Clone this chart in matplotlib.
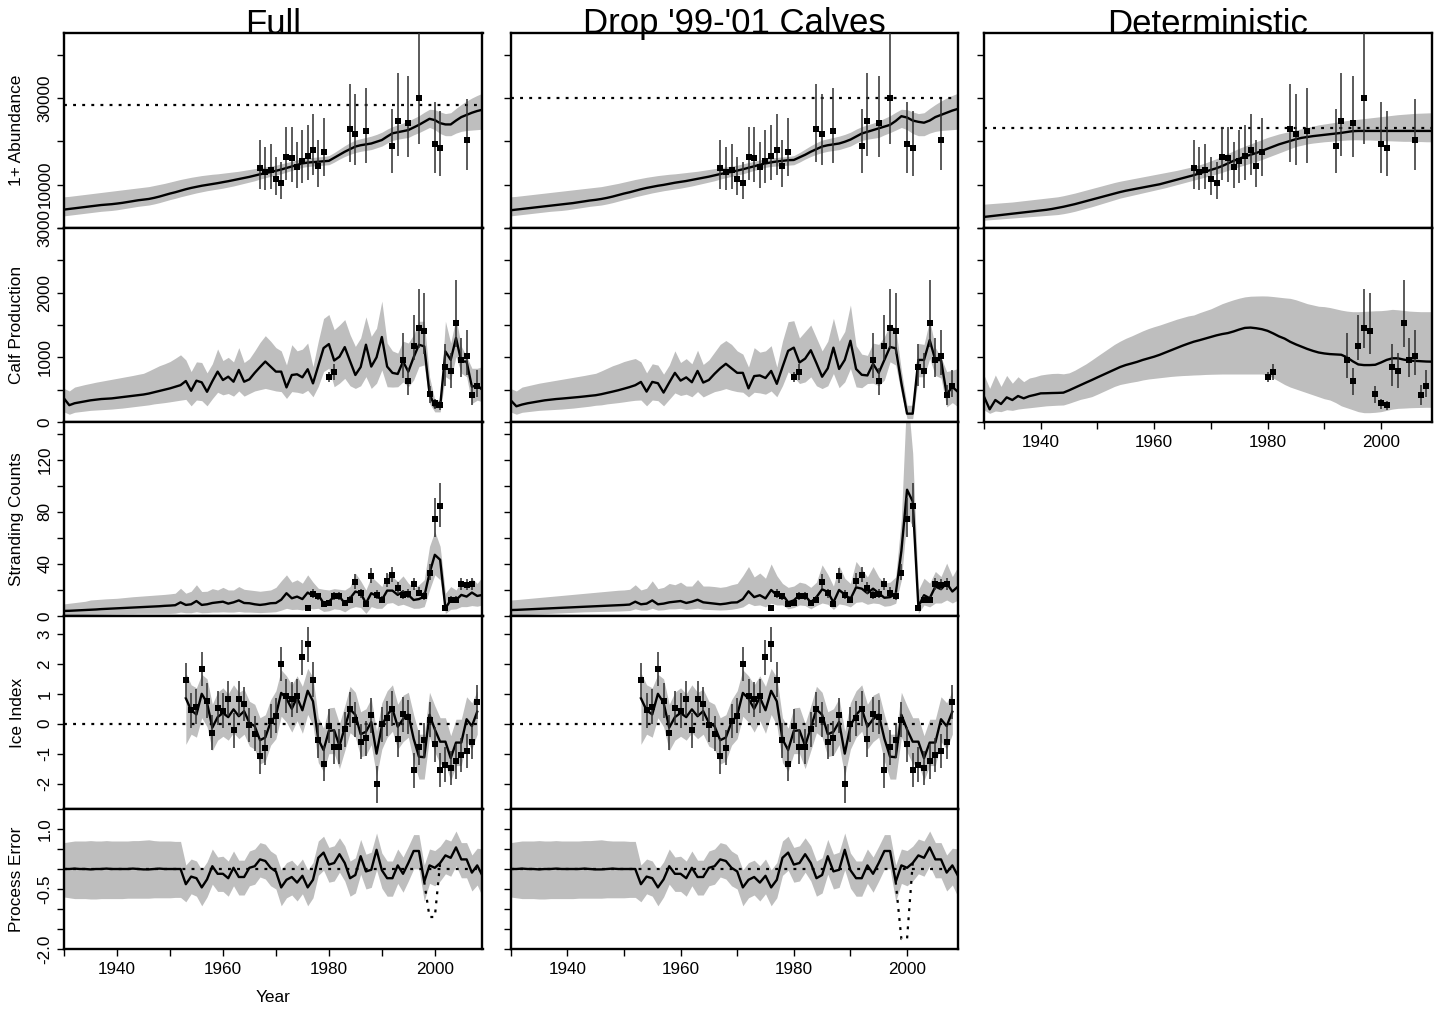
import numpy as np
import matplotlib
matplotlib.use("Agg")
import matplotlib.pyplot as plt

plt.rcParams['font.family'] = ['Liberation Sans', 'DejaVu Sans']

# ---------------- data ----------------
years = np.arange(1930, 2010)
ice_years = np.arange(1953, 2009)

col_titles = ["Full", "Drop '99-'01 Calves", "Deterministic"]
row_labels = ["1+ Abundance", "Calf Production", "Stranding Counts", "Ice Index", "Process Error"]
x_tick_labels = ['', '1940', '', '1960', '', '1980', '', '2000']

# carrying capacity (dotted) per column
ab_K = [28400, 30000, 23000]

# 1+ abundance
ab_med_full = [4250,4400,4550,4700,4850,5000,5150,5300,5400,5500,
               5640,5800,6000,6200,6400,6550,6700,6950,7250,7600,
               7950,8250,8600,8950,9250,9500,9750,9950,10150,10350,
               10580,10800,11050,11300,11550,11800,12100,12400,12650,12900,
               13200,13500,13850,14200,14550,14900,15100,15200,15300,15400,
               15500,16200,16900,17600,18200,18800,19100,19300,19500,19900,
               20300,21100,21850,22100,22350,22600,23200,23800,24500,25200,
               24900,24200,23900,23900,24800,25600,26100,26600,27000,27300]
ab_hi_full = [7200,7300,7450,7600,7750,7900,8050,8200,8350,8500,
              8650,8800,8950,9100,9250,9400,9550,9800,10050,10300,
              10600,10900,11200,11450,11700,11900,12100,12250,12400,12500,
              12650,12800,12950,13100,13300,13500,13700,13900,14100,14300,
              14500,14800,15100,15400,15700,16000,16200,16300,16400,16500,
              16700,17400,18200,19000,19700,20300,20600,20900,21200,21600,
              22100,22800,23400,23800,24200,24700,25300,25900,26700,27400,
              27300,26800,26400,26600,27600,28500,29300,30000,30600,31100]
ab_lo_full = [2800,2950,3100,3250,3400,3550,3700,3850,3950,4050,
              4200,4400,4600,4800,5000,5150,5300,5550,5850,6200,
              6550,6850,7200,7500,7800,8100,8350,8600,8800,9000,
              9200,9450,9700,10000,10300,10600,10900,11300,11600,11900,
              12200,12500,12900,13300,13600,14000,14200,14300,14400,14500,
              14600,15200,15900,16500,17000,17400,17700,17900,18100,18500,
              18900,19600,20200,20500,20700,20900,21500,22000,22600,23200,
              22700,21800,21300,21300,21900,22300,22500,22600,22700,22800]
ab_med_drop = [4100,4250,4400,4550,4700,4850,5000,5150,5300,5450,
               5600,5750,5950,6150,6350,6500,6700,6950,7250,7600,
               7950,8250,8600,8950,9250,9500,9750,9950,10200,10450,
               10650,10850,11100,11350,11600,11850,12150,12450,12700,12950,
               13250,13550,13900,14250,14600,14900,15150,15350,15500,15650,
               15700,16300,16900,17600,18200,18800,19100,19300,19500,19900,
               20400,21100,21800,22200,22600,23000,23400,23800,24700,25800,
               25500,24800,24500,24300,24800,25600,26100,26600,27100,27500]
ab_med_det = [2550,2700,2850,3000,3150,3300,3450,3600,3750,3900,
              4050,4200,4400,4650,4900,5200,5500,5850,6200,6550,
              6900,7250,7600,7950,8300,8600,8850,9100,9350,9600,
              9850,10100,10450,10800,11150,11500,11850,12200,12600,13000,
              13400,13800,14300,14900,15500,16000,16500,16900,17300,17800,
              18300,18800,19300,19700,20100,20500,20800,21000,21200,21350,
              21500,21650,21800,21950,22150,22350,22400,22400,22400,22400,
              22400,22400,22400,22400,22400,22400,22400,22400,22400,22400]
ab_hi_det = [5500,5600,5700,5800,5900,6000,6150,6300,6450,6600,
             6750,6900,7050,7200,7450,7750,8050,8400,8750,9100,
             9450,9800,10150,10500,10800,11050,11300,11550,11800,12050,
             12300,12550,12800,13050,13300,13600,13900,14200,14600,15000,
             15500,16000,16600,17200,17800,18400,18900,19400,19900,20400,
             20900,21300,21700,22000,22300,22600,22900,23200,23500,23800,
             24000,24200,24400,24600,24800,24950,25100,25250,25400,25550,
             25700,25850,26000,26150,26250,26350,26450,26500,26550,26600]
ab_lo_det = [1800,1900,2000,2100,2200,2300,2400,2500,2600,2700,
             2800,2900,3000,3100,3300,3550,3850,4200,4550,4900,
             5300,5700,6100,6500,6900,7200,7500,7800,8100,8400,
             8700,9000,9300,9650,10000,10350,10700,11050,11400,11750,
             12100,12450,12850,13300,13750,14150,14550,14950,15350,15800,
             16300,16800,17300,17800,18300,18800,19100,19400,19600,19750,
             19900,20000,20100,20200,20300,20350,20350,20300,20300,20250,
             20200,20150,20100,20050,20000,20000,19950,19950,19900,19900]
ab_obs_years = [1967,1968,1969,1970,1971,1972,1973,1974,1975,1976,1977,1978,1979,
                1984,1985,1987,1992,1993,1995,1997,2000,2001,2006]
ab_obs = [13900,13000,13500,11400,10400,16300,16100,14000,15400,16600,18100,14200,17500,
          22900,21600,22400,19000,24800,24300,29900,19500,18400,20300]
ab_obs_lo = [9100,8700,8900,7600,6800,11000,10700,9300,10300,11000,12200,9500,12000,
             15300,14500,15100,12700,16600,16400,19400,12700,12000,13400]
ab_obs_hi = [20300,18800,19400,16400,15300,23400,23200,19900,22600,23800,26300,20300,25300,
             33300,30900,32300,27400,35800,35000,52000,29000,27100,29800]

# calf production
calf_med_full = [364,260,290,305,320,335,345,355,360,365,
                 375,385,395,405,415,425,440,460,480,500,
                 520,545,570,634,483,639,613,467,630,779,
                 649,701,623,805,623,660,760,850,935,857,
                 779,779,535,727,738,691,816,597,870,1143,
                 1205,951,1010,1158,940,727,850,1195,857,1000,
                 1314,857,760,743,935,779,1000,1195,1169,442,
                 234,234,1091,961,1299,935,935,545,571,494]
calf_hi_full = [519,480,540,560,580,597,615,630,645,660,
                675,690,705,720,737,753,790,830,870,900,
                935,985,1039,960,780,930,920,760,900,1130,
                950,1000,930,1150,920,980,1100,1230,1335,1250,
                1150,1100,883,1195,1100,1127,1221,857,1250,1600,
                1662,1428,1500,1584,1350,1169,1300,1626,1325,1450,
                1870,1221,1100,1065,1250,1221,1350,1558,1558,701,
                338,338,1558,1221,1610,1169,1013,831,831,857]
calf_lo_full = [156,120,150,160,170,180,185,190,195,200,
                208,215,225,235,245,255,265,280,290,300,
                312,325,338,350,250,340,330,250,360,460,
                420,441,400,480,400,441,480,500,519,500,
                480,470,364,470,460,441,490,390,550,780,
                831,545,600,675,560,519,560,701,519,600,
                805,545,540,545,620,545,650,857,883,286,
                156,156,701,649,1013,753,701,286,338,312]
calf_med_drop = [336,243,270,290,305,320,335,345,355,362,
                 370,378,386,395,405,414,430,450,470,491,
                 515,540,569,620,470,620,600,455,610,760,
                 640,690,615,790,610,650,745,830,900,830,
                 760,760,520,710,720,680,790,590,850,1100,
                 1150,920,980,1110,910,700,830,1150,820,960,
                 1256,820,730,720,900,760,960,1160,1140,600,
                 129,129,960,960,1267,957,957,430,543,465]
calf_hi_drop = [517,480,540,560,580,600,615,630,645,660,
                675,690,705,720,737,753,790,830,870,900,
                935,960,982,930,760,900,880,740,880,1100,
                920,980,900,1110,890,960,1080,1200,1260,1200,
                1100,1050,850,1150,1080,1100,1180,850,1250,1551,
                1567,1300,1400,1500,1300,1100,1250,1603,1250,1400,
                1810,1180,1050,1030,1220,1200,1320,1500,1448,801,
                259,259,1215,1200,1577,1150,1000,780,800,827]
calf_lo_drop = [155,120,150,160,170,180,185,190,195,200,
                208,215,225,235,245,259,265,280,290,300,
                312,325,336,340,250,340,330,250,350,450,
                410,430,390,470,388,430,470,490,517,490,
                470,460,388,460,450,430,480,390,560,776,
                700,595,620,698,560,517,560,750,530,620,
                827,543,530,595,600,560,650,931,880,440,
                52,52,698,700,982,720,680,233,300,233]
calf_med_det = [392,196,340,278,381,340,402,366,400,420,
                443,445,448,450,454,490,530,570,610,649,
                690,730,770,810,850,881,905,930,960,985,
                1010,1040,1075,1110,1145,1180,1212,1242,1265,1290,
                1315,1340,1360,1375,1400,1430,1455,1460,1450,1435,
                1410,1370,1325,1290,1240,1200,1165,1130,1100,1075,
                1060,1050,1045,1040,1000,940,890,880,880,885,
                920,960,985,985,965,950,945,940,935,933]
calf_hi_det = [727,520,727,550,720,600,700,624,680,700,
               727,740,750,753,745,760,800,850,900,959,
               1020,1080,1140,1200,1250,1294,1330,1370,1410,1445,
               1474,1500,1530,1560,1590,1615,1640,1655,1690,1720,
               1750,1790,1830,1861,1890,1915,1935,1945,1948,1950,
               1948,1940,1930,1920,1912,1890,1860,1830,1810,1790,
               1784,1770,1750,1730,1715,1706,1706,1710,1715,1720,
               1722,1730,1742,1735,1725,1715,1710,1706,1706,1706]
calf_lo_det = [186,134,170,160,190,180,200,211,220,230,
               240,250,255,260,263,290,320,350,370,392,
               430,470,510,550,580,598,615,630,650,665,
               675,685,695,705,712,718,722,727,730,735,
               738,740,742,742,742,742,742,742,742,742,
               730,680,630,580,540,510,480,450,420,390,
               360,340,300,250,220,190,160,144,144,150,
               160,180,200,211,215,220,223,225,227,227]
calf_obs_years = [1980,1981,1994,1995,1996,1997,1998,1999,2000,2001,2002,2003,2004,2005,2006,2007,2008]
calf_obs = [700,772,960,628,1172,1455,1400,433,290,260,855,793,1536,955,1020,416,555]
calf_obs_lo = [620,650,680,420,960,1150,1050,300,200,185,560,530,1160,700,727,265,390]
calf_obs_hi = [770,900,1370,840,1650,2060,2000,560,360,330,1200,1060,2200,1300,1420,570,800]
calf_dropped_years = [1999, 2000, 2001]

# stranding counts
strand_med_full = [3.9,4.0,4.2,4.4,4.6,4.8,5.0,5.3,5.5,5.7,
                   5.9,6.1,6.3,6.5,6.7,6.9,7.1,7.3,7.5,7.8,
                   8.0,8.3,10.5,8.5,9.0,11.5,8.5,9.0,10.0,10.5,
                   11.0,9.5,10.5,12.0,10.0,9.8,9.0,8.5,9.0,9.8,
                   10.0,12.5,17.5,13.6,14.9,13.0,18.0,15.4,16.2,9.8,
                   11.0,14.9,14.9,9.8,13.6,18.8,17.5,9.8,17.5,15.4,
                   12.3,19.5,19.5,16.2,18.8,16.2,12.3,13.0,14.9,32.9,
                   47.0,43.2,5.9,12.3,12.3,16.2,14.9,18.0,15.4,16.2]
strand_hi_full = [9.3,9.8,10.3,10.8,11.3,12.3,12.6,12.9,13.2,13.4,
                  13.6,14.0,14.4,14.8,15.1,15.4,15.7,16.0,16.3,16.6,
                  17.0,17.5,21.3,17.5,19.0,24.0,18.8,19.0,21.0,20.0,
                  22.0,20.0,20.0,22.6,20.5,20.0,19.5,19.0,19.5,20.0,
                  22.0,27.0,31.6,26.0,27.8,25.2,31.6,26.0,21.3,20.5,
                  20.0,21.0,20.5,20.0,22.6,32.9,27.0,20.0,30.3,26.5,
                  22.6,32.9,30.3,26.5,30.8,25.2,21.3,24.0,27.8,53.5,
                  65.0,53.5,17.5,22.6,20.0,26.5,22.6,29.0,25.0,30.3]
strand_lo_full = [0.8,0.9,1.0,1.1,1.2,1.3,1.4,1.5,1.6,1.7,
                  1.8,1.8,1.9,1.9,2.0,2.0,2.0,2.0,2.0,2.0,
                  2.0,2.2,3.0,2.5,2.5,3.3,2.5,2.6,3.0,3.0,
                  3.2,3.0,3.0,3.5,3.0,3.0,2.8,2.6,2.8,3.0,
                  3.3,4.5,5.9,5.0,5.2,4.6,5.9,5.5,5.9,3.5,
                  4.0,5.5,5.0,3.2,5.9,7.2,6.5,2.0,7.2,5.9,
                  5.9,9.8,10.3,8.0,9.0,7.5,5.9,6.0,7.2,20.0,
                  31.6,27.8,2.0,5.1,5.5,7.2,7.2,8.0,7.5,8.5]
strand_med_drop = [4.6,4.7,4.9,5.1,5.3,5.5,5.7,5.9,6.1,6.3,
                   6.5,6.7,6.9,7.1,7.3,7.5,7.7,7.9,8.1,8.3,
                   8.5,8.8,11.0,9.0,9.5,12.0,9.0,9.5,10.5,11.0,
                   11.5,10.0,11.0,12.5,10.5,10.0,9.5,9.0,9.5,10.3,
                   10.5,13.0,19.0,14.5,16.0,13.5,20.0,16.0,16.5,10.5,
                   12.0,16.0,15.5,10.5,14.5,20.5,18.5,10.5,20.0,16.5,
                   13.0,22.0,21.0,17.5,21.0,17.5,14.0,14.5,17.0,50.0,
                   97.0,88.0,7.2,16.0,13.6,22.6,20.6,25.2,18.8,22.6]
strand_hi_drop = [12.3,12.6,13.0,13.4,13.8,14.2,14.6,15.0,15.4,15.8,
                  16.2,16.6,17.0,17.4,17.8,18.2,18.6,19.0,19.4,19.8,
                  20.0,20.5,24.0,20.0,21.3,27.0,21.0,22.0,25.0,24.0,
                  26.0,23.0,23.0,28.0,23.0,23.0,22.6,22.0,22.6,24.0,
                  25.0,31.0,38.0,30.0,33.0,29.0,40.0,31.0,25.0,22.0,
                  23.0,26.0,25.0,22.0,26.0,39.3,32.0,23.0,38.6,29.0,
                  25.0,41.9,36.0,30.0,38.0,30.0,25.2,26.0,30.0,75.0,
                  175.0,125.0,20.0,29.0,25.2,34.2,30.3,40.6,30.3,38.0]
strand_lo_drop = [0.8,0.9,1.0,1.2,1.4,1.6,1.8,2.0,2.2,2.4,
                  2.6,2.8,3.0,3.2,3.3,3.4,3.5,3.6,3.7,3.8,
                  4.0,4.2,5.5,4.5,4.5,5.9,4.5,4.8,5.5,5.5,
                  5.9,5.0,5.5,6.0,5.2,5.0,4.8,4.6,4.8,5.2,
                  5.9,7.0,9.8,8.0,8.5,7.0,9.8,8.5,8.5,5.5,
                  6.5,8.5,8.0,5.5,8.0,10.0,9.0,5.0,9.3,8.5,
                  7.0,10.5,11.0,9.0,10.0,9.5,7.5,8.0,9.8,27.8,
                  76.6,68.9,2.0,8.5,7.0,10.0,10.0,12.3,10.0,12.3]
strand_obs_years = list(range(1976, 2008))
strand_obs = [6.4,17,15,9,10,15.4,15.4,9.8,12.3,26,17.5,9,30.8,16.2,12.3,27,
              31.6,21.3,16.2,17,24.4,18,15.4,33.4,74.8,84.3,5.9,12.3,12.3,24.4,24,24.4]
strand_obs_lo = [5.5,14,12.5,7,8,12.5,12.5,7.5,10,21,14,7,25.5,13,10,22,
                 26,17,13,14,20,15,12.5,28,61,68,4.5,10,10,20,20,20]
strand_obs_hi = [7.5,20.5,18,11,12.5,18.5,18.5,12,15,32,21,11,37,20,15,33,
                 38,26,20,21,29,22,18.5,40,91,102,7.5,15,15,29,28.5,29]

# ice index (1953-2008)
ice_med = [0.85,0.45,0.31,1.0,0.7,-0.13,0.22,0.36,0.22,0.48,
           0.25,0.42,0.03,-0.08,-0.55,-0.46,0.05,0.28,1.03,0.84,
           0.5,0.88,0.45,1.1,0.75,-0.52,-0.88,-0.24,-0.22,-0.74,
           -0.13,0.48,0.3,-0.35,-0.27,0.06,-1.0,-0.08,0.3,0.5,
           -0.1,0.15,0.31,-0.5,-1.1,-1.12,0.3,-0.19,-0.6,-0.6,
           -1.15,-0.63,-0.63,0.15,-0.08,0.4]
ice_hi = [1.7,1.3,1.2,1.65,1.5,0.65,1.05,1.2,1.0,1.3,
          1.05,1.15,0.75,0.65,0.2,0.3,0.8,1.1,1.8,1.6,
          1.3,1.6,1.25,1.85,1.55,0.2,-0.15,0.53,0.55,0.0,
          0.6,1.25,1.05,0.4,0.5,0.85,-0.25,0.7,1.1,1.3,
          0.65,0.95,1.05,0.3,-0.35,-0.35,1.05,0.6,0.2,0.2,
          -0.4,0.15,0.15,0.9,0.7,1.1]
ice_lo = [-0.69,-0.35,-0.45,0.2,-0.1,-0.9,-0.55,-0.42,-0.55,-0.3,
          -0.5,-0.35,-0.75,-0.85,-1.35,-1.25,-0.72,-0.5,0.25,0.05,
          -0.28,0.1,-0.32,0.31,-0.05,-1.3,-1.6,-1.0,-1.0,-1.5,
          -0.9,-0.3,-0.45,-1.1,-1.05,-0.7,-1.75,-0.85,-0.45,-0.25,
          -0.85,-0.6,-0.45,-1.25,-1.85,-1.85,-0.45,-0.95,-1.35,-1.35,
          -1.9,-1.4,-1.4,-0.6,-0.85,-0.35]
ice_obs = [1.46,0.45,0.57,1.83,0.77,-0.30,0.53,0.44,0.84,-0.22,
           0.84,0.66,-0.04,-0.33,-1.09,-0.80,0.09,0.27,2.00,0.93,
           0.81,0.93,2.22,2.65,1.47,-0.55,-1.33,-0.08,-0.77,-0.77,
           -0.19,0.48,0.14,-0.60,-0.49,0.28,-2.01,-0.02,0.18,0.50,
           -0.52,0.31,0.22,-1.56,-0.79,-0.56,0.14,-0.69,-1.55,-1.37,
           -1.48,-1.26,-1.05,-0.91,-0.61,0.73]
ice_obs_hi = [2.04,1.03,1.15,2.41,1.35,0.28,1.11,1.02,1.42,0.36,
              1.42,1.24,0.54,0.25,-0.51,-0.22,0.67,0.85,2.58,1.51,
              1.39,1.51,2.80,3.23,2.05,0.03,-0.75,0.50,-0.19,-0.19,
              0.39,1.06,0.72,-0.02,0.09,0.86,-1.40,0.56,0.76,1.08,
              0.06,0.89,0.80,-0.98,-0.21,0.02,0.72,-0.11,-0.97,-0.79,
              -0.90,-0.68,-0.47,-0.33,-0.03,1.31]
ice_obs_lo = [0.88,-0.13,-0.01,1.25,0.19,-0.88,-0.05,-0.14,0.26,-0.80,
              0.26,0.08,-0.62,-0.91,-1.67,-1.38,-0.49,-0.31,1.42,0.35,
              0.23,0.35,1.64,2.07,0.89,-1.13,-1.91,-0.66,-1.35,-1.35,
              -0.77,-0.10,-0.44,-1.18,-1.07,-0.30,-2.65,-0.60,-0.40,-0.08,
              -1.10,-0.27,-0.36,-2.14,-1.37,-1.14,-0.44,-1.27,-2.13,-1.95,
              -2.06,-1.84,-1.63,-1.49,-1.19,0.15]

# process error
proc_med = [0.0,0.0,0.01,0.0,0.0,-0.01,0.0,0.0,0.01,0.0,
            0.0,0.0,0.0,0.01,0.0,-0.01,-0.01,0.0,0.01,0.0,
            0.0,0.0,0.0,-0.38,-0.19,-0.23,-0.46,-0.26,0.07,-0.12,
            -0.12,-0.23,0.03,-0.2,-0.2,0.03,0.07,0.24,0.2,0.03,
            -0.06,-0.46,-0.27,-0.2,-0.34,-0.17,-0.46,-0.27,0.28,0.41,
            0.11,0.15,0.37,0.15,-0.23,-0.15,0.32,-0.06,-0.02,0.48,
            -0.03,-0.23,-0.23,0.09,-0.12,0.15,0.45,0.45,-0.32,0.09,
            0.03,0.15,0.34,0.28,0.54,0.24,0.24,-0.09,0.09,-0.17]
proc_hi = [0.66,0.68,0.7,0.7,0.7,0.71,0.7,0.7,0.71,0.7,
           0.7,0.7,0.7,0.71,0.71,0.72,0.73,0.71,0.7,0.7,
           0.7,0.69,0.69,0.1,0.25,0.2,-0.02,0.18,0.5,0.3,
           0.32,0.2,0.45,0.22,0.22,0.45,0.5,0.66,0.62,0.45,
           0.36,-0.02,0.16,0.22,0.08,0.25,-0.02,0.16,0.7,0.82,
           0.54,0.58,0.78,0.58,0.2,0.28,0.74,0.37,0.42,0.9,
           0.4,0.2,0.2,0.5,0.3,0.57,0.86,0.86,0.1,0.5,
           0.46,0.57,0.75,0.7,0.95,0.66,0.66,0.35,0.52,0.5]
proc_lo = [-0.7,-0.72,-0.74,-0.74,-0.74,-0.75,-0.75,-0.74,-0.74,-0.74,
           -0.74,-0.74,-0.73,-0.73,-0.73,-0.73,-0.73,-0.72,-0.72,-0.72,
           -0.72,-0.71,-0.71,-0.82,-0.62,-0.68,-0.92,-0.7,-0.38,-0.56,
           -0.56,-0.68,-0.42,-0.65,-0.65,-0.42,-0.38,-0.2,-0.25,-0.42,
           -0.5,-0.92,-0.72,-0.65,-0.8,-0.62,-0.92,-0.72,-0.16,-0.03,
           -0.33,-0.3,-0.08,-0.3,-0.68,-0.6,-0.13,-0.5,-0.46,-0.02,
           -0.48,-0.68,-0.68,-0.36,-0.58,-0.3,0.0,0.0,-0.8,-0.36,
           -0.42,-0.3,-0.12,-0.18,0.08,-0.22,-0.22,-0.55,-0.4,-0.7]
proc_alt_years = [1998, 1999, 2000, 2001]
proc_alt_full = [-0.32, -1.2, -1.2, 0.15]
proc_alt_drop = [-0.32, -1.75, -1.75, 0.15]

# ---------------- layout ----------------
BAND = '#bebebe'
ERR = '#2e2e2e'
DOT = (0, (1.3, 2.8))
TICK_FS = 12.3
W, H = 1442, 1010
fig = plt.figure(figsize=(W / 100, H / 100), dpi=100)
COLS = [(64, 482.5), (510.7, 958), (984, 1432)]
ROWS = [(33, 228), (228, 422), (422, 616), (616, 809), (809, 949)]

ROW_Y = [
    dict(lim=(0, 45000), ticks=[0, 10000, 20000, 30000, 40000],
         labels=['', '10000', '', '30000', '']),
    dict(lim=(0, 3000), ticks=[0, 500, 1000, 1500, 2000, 2500, 3000],
         labels=['0', '', '1000', '', '2000', '', '3000']),
    dict(lim=(0, 149), ticks=[0, 20, 40, 60, 80, 100, 120, 140],
         labels=['0', '', '40', '', '80', '', '120', '']),
    dict(lim=(-2.85, 3.6), ticks=[-2, -1, 0, 1, 2, 3],
         labels=['-2', '-1', '0', '1', '2', '3']),
    dict(lim=(-2.0, 1.5), ticks=[-2.0, -1.5, -1.0, -0.5, 0.0, 0.5, 1.0, 1.5],
         labels=['-2.0', '', '', '-0.5', '', '', '1.0', '']),
]


def make_ax(c, r, bottom):
    x0, x1 = COLS[c]
    y0, y1 = ROWS[r]
    ax = fig.add_axes([x0 / W, 1 - y1 / H, (x1 - x0) / W, (y1 - y0) / H])
    for s in ax.spines.values():
        s.set_linewidth(1.7)
    ax.set_xlim(1930, 2009)
    spec = ROW_Y[r]
    ax.set_ylim(*spec['lim'])
    ax.set_yticks(spec['ticks'])
    if c == 0:
        ax.set_yticklabels(spec['labels'], rotation=90, va='center')
    else:
        ax.set_yticklabels([])
    ax.tick_params(axis='y', direction='out', length=5, width=1.0, labelsize=TICK_FS, pad=3.4)
    if bottom:
        ax.set_xticks(range(1930, 2010, 10))
        ax.set_xticklabels(x_tick_labels)
        ax.tick_params(axis='x', direction='out', length=5, width=1.0, labelsize=TICK_FS, pad=4.2)
    else:
        ax.tick_params(axis='x', bottom=False, labelbottom=False)
    return ax


def draw(ax, x, med, lo, hi):
    ax.fill_between(x, lo, hi, color=BAND, lw=0, zorder=1)
    ax.plot(x, med, color='black', lw=1.7, zorder=3)


def draw_obs(ax, ox, ov, olo, ohi):
    ax.vlines(ox, olo, ohi, colors=ERR, lw=1.1, zorder=4)
    ax.plot(ox, ov, 's', ms=3.8, color='black', mew=0, zorder=5)


def keep(years_list, *arrs, drop=()):
    idx = [i for i, y in enumerate(years_list) if y not in drop]
    return [[a[i] for i in idx] for a in (years_list,) + arrs]


# column specs
ab_sets = [(ab_med_full, ab_lo_full, ab_hi_full),
           (ab_med_drop, ab_lo_full, ab_hi_full),
           (ab_med_det, ab_lo_det, ab_hi_det)]
calf_sets = [(calf_med_full, calf_lo_full, calf_hi_full),
             (calf_med_drop, calf_lo_drop, calf_hi_drop),
             (calf_med_det, calf_lo_det, calf_hi_det)]
strand_sets = [(strand_med_full, strand_lo_full, strand_hi_full),
               (strand_med_drop, strand_lo_drop, strand_hi_drop)]
proc_alts = [proc_alt_full, proc_alt_drop]

for c in range(3):
    nrows = 5 if c < 2 else 2
    # row 0: abundance
    ax = make_ax(c, 0, False)
    med, lo, hi = ab_sets[c]
    draw(ax, years, med, lo, hi)
    ax.axhline(ab_K[c], color='black', lw=1.6, ls=DOT, zorder=2)
    draw_obs(ax, ab_obs_years, ab_obs, ab_obs_lo, ab_obs_hi)

    # row 1: calves
    ax = make_ax(c, 1, nrows == 2)
    med, lo, hi = calf_sets[c]
    draw(ax, years, med, lo, hi)
    drop = calf_dropped_years if c == 1 else ()
    oy, ov, olo, ohi = keep(calf_obs_years, calf_obs, calf_obs_lo, calf_obs_hi, drop=drop)
    draw_obs(ax, oy, ov, olo, ohi)

    if nrows == 2:
        continue

    # row 2: strandings
    ax = make_ax(c, 2, False)
    med, lo, hi = strand_sets[c]
    draw(ax, years, med, lo, hi)
    draw_obs(ax, strand_obs_years, strand_obs, strand_obs_lo, strand_obs_hi)

    # row 3: ice
    ax = make_ax(c, 3, False)
    draw(ax, ice_years, ice_med, ice_lo, ice_hi)
    ax.axhline(0, color='black', lw=1.6, ls=DOT, zorder=2)
    draw_obs(ax, ice_years, ice_obs, ice_obs_lo, ice_obs_hi)

    # row 4: process error
    ax = make_ax(c, 4, True)
    draw(ax, years, proc_med, proc_lo, proc_hi)
    ax.axhline(0, color='black', lw=1.6, ls=DOT, zorder=2)
    ax.plot(proc_alt_years, proc_alts[c], color='black', lw=1.6, ls=DOT, zorder=2)

# titles
for c, t in enumerate(col_titles):
    xc = (COLS[c][0] + COLS[c][1]) / 2
    fig.text(xc / W, 1 - 33.5 / H, t, ha='center', va='baseline', fontsize=25)

# row labels
for r, lab in enumerate(row_labels):
    yc = (ROWS[r][0] + ROWS[r][1]) / 2
    fig.text(17 / W, 1 - yc / H, lab, rotation=90, ha='center', va='center', fontsize=12.4)

fig.text(273 / W, 1 - 998 / H, 'Year', ha='center', va='center', fontsize=12.4)

fig.savefig('out.png', dpi=100)
